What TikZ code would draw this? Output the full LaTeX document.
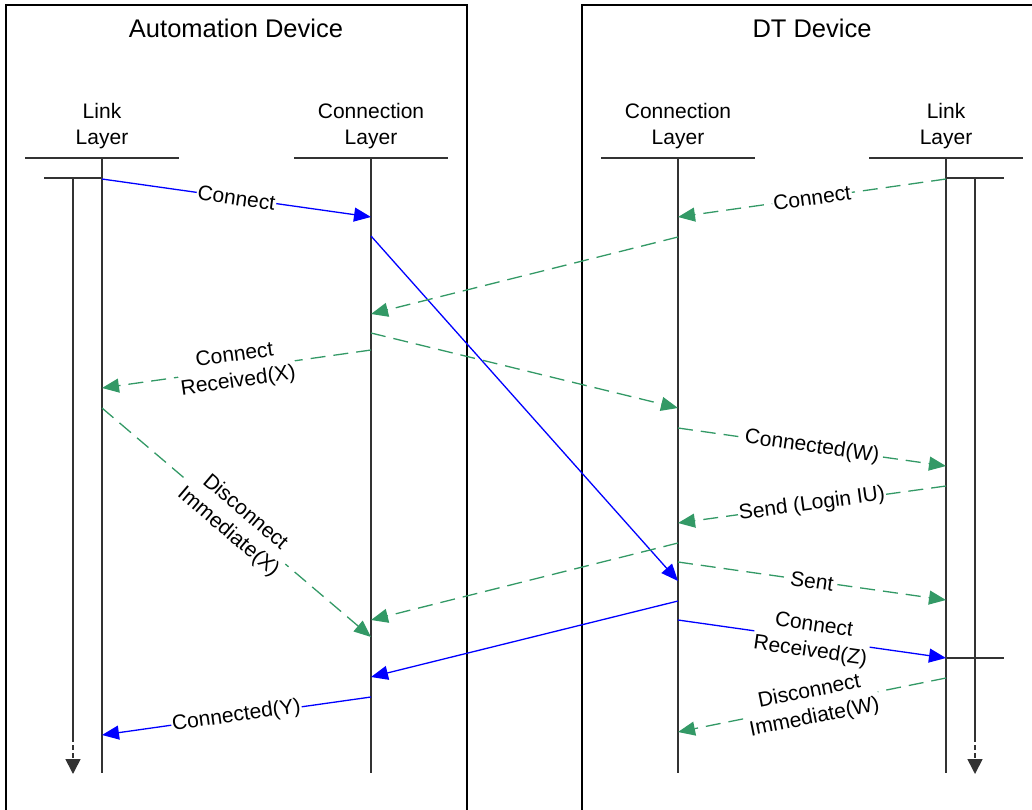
\documentclass[tikz,border=0pt]{standalone}
\usepackage{fontspec}
\setmainfont{Liberation Sans}
\usetikzlibrary{arrows.meta}
\usepackage{xcolor}
\definecolor{msggreen}{RGB}{51,153,102}

\begin{document}
\begin{tikzpicture}[x=1pt,y=-1pt,line width=1.3pt,
  font=\fontsize{21}{26}\selectfont,
  head/.style={align=center},
  life/.style={line width=1.6pt,black!80},
  call/.style={blue,-{Triangle[length=17pt,width=14pt]}},
  back/.style={msggreen,dash pattern=on 15pt off 8pt,-{Triangle[length=17pt,width=14pt]}},
  timeline/.style={-{Triangle[length=15pt,width=15pt]}},
  lbl/.style={midway,sloped,fill=white,inner sep=1pt,align=center,text=black}]
\useasboundingbox (0,0) rectangle (1032,810);

\draw (6,815) -- (6,5) -- (467,5) -- (467,815);
\draw (582,815) -- (582,5) -- (1040,5);
\node (ad) at (236,28) {\fontsize{25.5}{30}\selectfont Automation Device};
\node (dt) at (812,28) {\fontsize{25.5}{30}\selectfont DT Device};

\node [head] (adLinkHd) at (102,126) {Link\\Layer};
\node [head] (adConnHd) at (371,126) {Connection\\Layer};
\node [head] (dtConnHd) at (678,126) {Connection\\Layer};
\node [head] (dtLinkHd) at (946,126) {Link\\Layer};

\coordinate (ll) at (102,158);
\coordinate (lc) at (371,158);
\coordinate (rc) at (678,158);
\coordinate (rl) at (946,158);

\draw [life] ([xshift=-77pt]ll) -- ([xshift=77pt]ll);
\draw [life] ([xshift=-77pt]lc) -- ([xshift=77pt]lc);
\draw [life] ([xshift=-77pt]rc) -- ([xshift=77pt]rc);
\draw [life] ([xshift=-77pt]rl) -- ([xshift=77pt]rl);
\draw [life] (ll) -- (ll |- 0,773);
\draw [life] (lc) -- (lc |- 0,773);
\draw [life] (rc) -- (rc |- 0,773);
\draw [life] (rl) -- (rl |- 0,773);

\coordinate (lt) at (73,178);
\coordinate (rt) at (975,178);
\draw [life] (44,178) -- (ll |- lt);
\draw [life] (lt) -- (73,737);
\draw [life,timeline,dash pattern=on 5pt off 3pt] (73,737) -- (73,774);
\draw [life] (rl |- rt) -- (1004,178);
\draw [life] (rt) -- (975,737);
\draw [life,timeline,dash pattern=on 5pt off 3pt] (975,737) -- (975,774);
\draw [life] (rl |- 0,658) -- (1004,658);

\draw [call] (ll |- 0,179) -- node[lbl] {Connect} (lc |- 0,217);
\draw [call] (lc |- 0,236) -- (rc |- 0,581);
\draw [back] (rl |- 0,179) -- node[lbl] {Connect} (rc |- 0,217);
\draw [back] (rc |- 0,237) -- (lc |- 0,314);
\draw [back] (lc |- 0,333) -- (rc |- 0,408);
\draw [back] (lc |- 0,350) -- node[lbl] {Connect\\Received(X)} (ll |- 0,388);
\draw [back] (ll |- 0,408) -- node[lbl] {Disconnect\\Immediate(X)} (lc |- 0,637);
\draw [back] (rc |- 0,428) -- node[lbl] {Connected(W)} (rl |- 0,466);
\draw [back] (rl |- 0,486) -- node[lbl] {Send (Login IU)} (rc |- 0,523);
\draw [back] (rc |- 0,543) -- (lc |- 0,620);
\draw [back] (rc |- 0,562) -- node[lbl] {Sent} (rl |- 0,600);
\draw [call] (rc |- 0,601) -- (lc |- 0,677);
\draw [call] (rc |- 0,620) -- node[lbl] {Connect\\Received(Z)} (rl |- 0,658);
\draw [back] (rl |- 0,678) -- node[lbl] {Disconnect\\Immediate(W)} (rc |- 0,732);
\draw [call] (lc |- 0,697) -- node[lbl] {Connected(Y)} (ll |- 0,735);
\end{tikzpicture}
\end{document}
